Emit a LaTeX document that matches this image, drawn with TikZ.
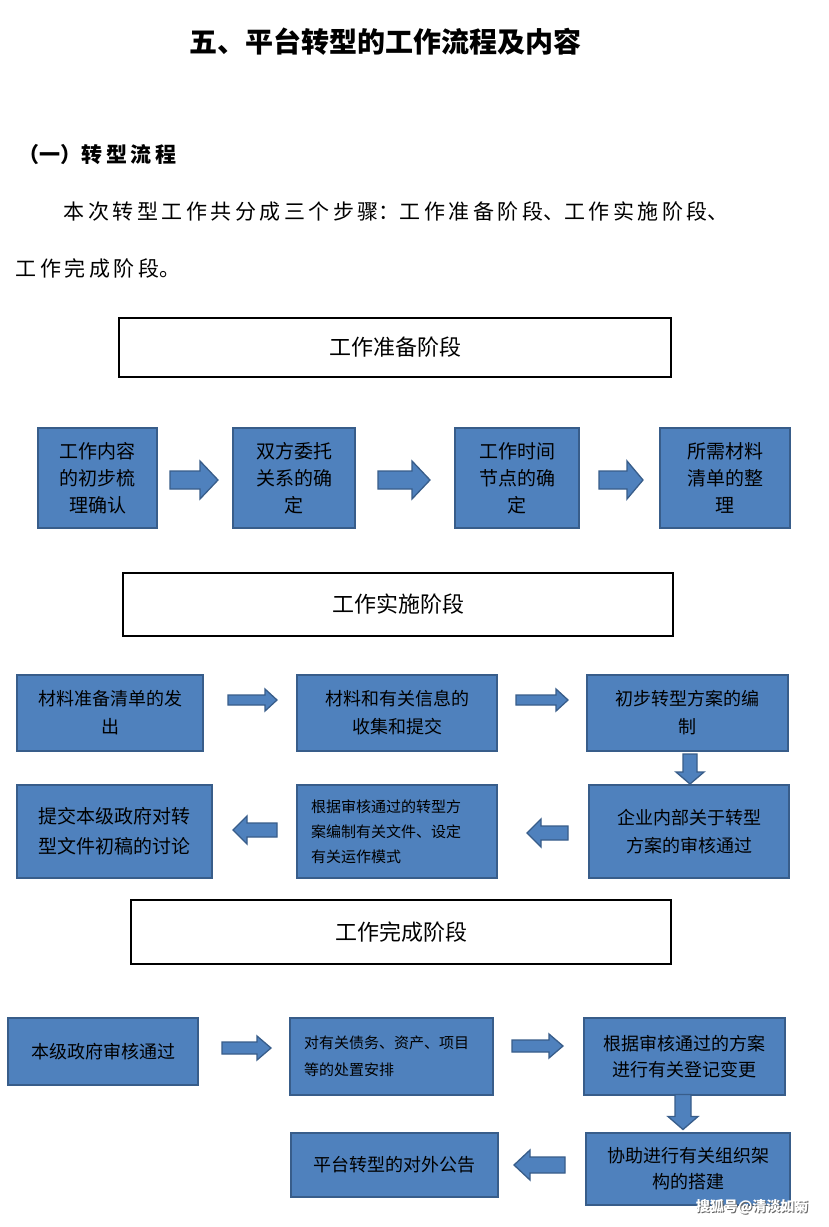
\documentclass[tikz,border=0pt]{standalone}
\usepackage{fontspec}
\newfontfamily\cjk{Noto Sans CJK SC}
\definecolor{bfill}{HTML}{4F81BD}
\definecolor{bline}{HTML}{385D8A}
% \barr{x}{y}{rot}{length}{shaft half}{head half}{head length}
\newcommand{\barr}[7]{%
  \draw[draw=bline,line width=1.3pt,fill=bfill,line join=miter,shift={(#1,#2)},rotate=#3]
   (-#4/2,-#5) -- (#4/2-#7,-#5) -- (#4/2-#7,-#6) -- (#4/2,0) -- (#4/2-#7,#6) -- (#4/2-#7,#5) -- (-#4/2,#5) -- cycle;}
\begin{document}
\begin{tikzpicture}[x=1pt,y=-1pt,
  box/.style={draw=bline,line width=1.8pt,fill=bfill,align=center,inner sep=0pt,font=\cjk\fontsize{19}{27}\selectfont,text=black},
  hdr/.style={draw=black,line width=2pt,fill=white,font=\cjk\fontsize{22}{26}\selectfont}]
\useasboundingbox (0,0) rectangle (829,1227);
\fill[white] (0,0) rectangle (829,1227);
\node[font=\cjk\bfseries\fontsize{28}{32}\selectfont] (t) at (385,42) {五、平台转型的工作流程及内容};
\node[font=\cjk\bfseries\fontsize{21}{24}\selectfont,anchor=west] (s) at (15,155) {（一）转\,型\,流\,程};
\node[font=\cjk\fontsize{21}{24}\selectfont,anchor=west] (p1) at (60,212) {本\,次\,转\,型\,工\,作\,共\,分\,成\,三\,个\,步\,骤：工\,作\,准\,备\,阶\,段、工\,作\,实\,施\,阶\,段、};
\node[font=\cjk\fontsize{21}{24}\selectfont,anchor=west] (p2) at (12,268) {工\,作\,完\,成\,阶\,段。};
% headers
\node[hdr,minimum width=552,minimum height=59] (h1) at (395,347.5) {工作准备阶段};
\node[hdr,minimum width=550,minimum height=63] (h2) at (398,604.5) {工作实施阶段};
\node[hdr,minimum width=540,minimum height=64] (h3) at (401,932) {工作完成阶段};
% row 1
\node[box,minimum width=119,minimum height=100] (a1) at (97.5,478) {工作内容\\的初步梳\\理确认};
\node[box,minimum width=122,minimum height=100] (a2) at (294,478) {双方委托\\关系的确\\定};
\node[box,minimum width=124,minimum height=100] (a3) at (517,478) {工作时间\\节点的确\\定};
\node[box,minimum width=130,minimum height=100] (a4) at (725,478) {所需材料\\清单的整\\理};
\barr{194}{480}{0}{48}{9}{19}{18}
\barr{404}{480}{0}{52}{9}{19}{18}
\barr{621}{480}{0}{44}{9}{19}{16}
% row 2
\node[box,minimum width=186,minimum height=76,font=\cjk\fontsize{18}{28}\selectfont] (b1) at (110,713) {材料准备清单的发\\出};
\node[box,minimum width=200,minimum height=76,font=\cjk\fontsize{18}{28}\selectfont] (b2) at (397,713) {材料和有关信息的\\收集和提交};
\node[box,minimum width=201,minimum height=76,font=\cjk\fontsize{18}{28}\selectfont] (b3) at (687.5,713) {初步转型方案的编\\制};
\barr{252.5}{700}{0}{49}{5}{11}{12}
\barr{542}{700}{0}{52}{5}{11}{12}
\barr{690}{769}{-90}{30}{7}{14}{12}
% row 3
\node[box,minimum width=195,minimum height=93,font=\cjk\fontsize{19}{30}\selectfont] (c1) at (114.5,831.5) {提交本级政府对转\\型文件初稿的讨论};
\node[box,minimum width=200,minimum height=93,align=left,text width=172,font=\cjk\fontsize{15}{25}\selectfont] (c2) at (397,831.5) {根据审核通过的转型方\\案编制有关文件、设定\\有关运作模式};
\node[box,minimum width=200,minimum height=93,font=\cjk\fontsize{18}{28}\selectfont] (c3) at (689,831.5) {企业内部关于转型\\方案的审核通过};
\barr{255}{830}{180}{44}{7}{14}{14}
\barr{547.5}{833}{180}{41}{7}{14}{14}
% row 4
\node[box,minimum width=190,minimum height=67,font=\cjk\fontsize{18}{26}\selectfont] (e1) at (103,1051.5) {本级政府审核通过};
\node[box,minimum width=203,minimum height=77,align=left,text width=175,font=\cjk\fontsize{15}{27}\selectfont] (e2) at (391.5,1056.5) {对有关债务、资产、项目\\等的处置安排};
\node[box,minimum width=201,minimum height=77,font=\cjk\fontsize{18}{26}\selectfont] (e3) at (684.5,1056.5) {根据审核通过的方案\\进行有关登记变更};
\barr{246.5}{1048}{0}{49}{6}{12}{14}
\barr{537.5}{1046}{0}{51}{6}{12}{14}
\barr{683}{1112}{-90}{35}{8}{15}{13}
% row 5
\node[box,minimum width=207,minimum height=64,font=\cjk\fontsize{18}{26}\selectfont] (f1) at (394.5,1165) {平台转型的对外公告};
\node[box,minimum width=204,minimum height=72,font=\cjk\fontsize{18}{26}\selectfont] (f2) at (688,1169) {协助进行有关组织架\\构的搭建};
\barr{539.5}{1165}{180}{51}{8}{15}{16}
\node[font=\cjk\bfseries\fontsize{14}{16}\selectfont,text=black!60,anchor=east] (ws) at (813,1208) {搜狐号@清淡如菊};
\node[font=\cjk\bfseries\fontsize{14}{16}\selectfont,text=white,anchor=east] (w) at (812,1207) {搜狐号@清淡如菊};
\end{tikzpicture}
\end{document}
